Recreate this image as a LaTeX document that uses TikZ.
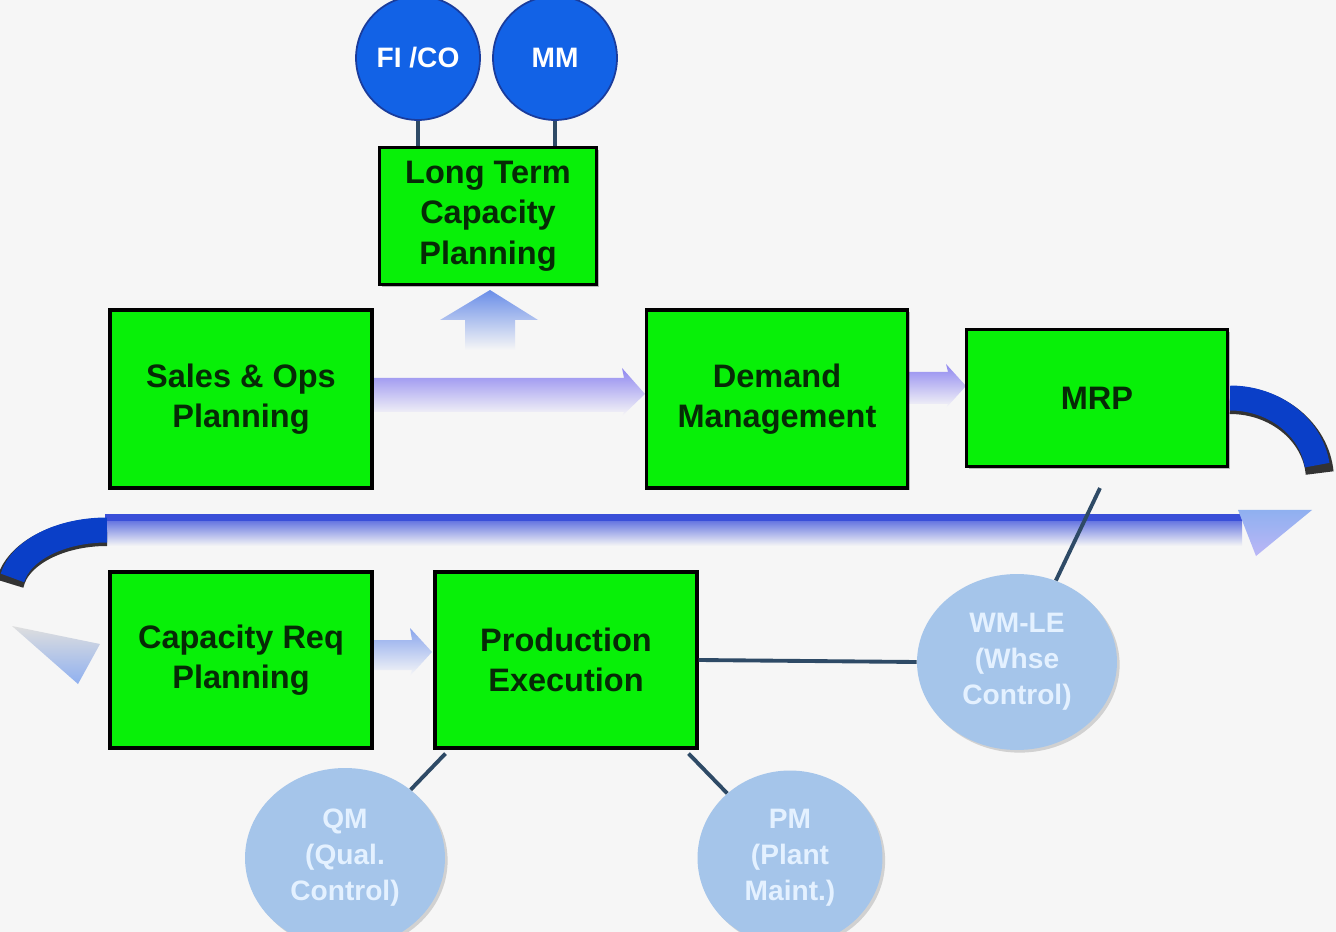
\documentclass[tikz,border=0pt]{standalone}
\usepackage{fontspec}
\setmainfont{Liberation Sans}
\usetikzlibrary{shapes.geometric,calc,shadows}
\definecolor{bgc}{HTML}{F6F6F6}
\definecolor{boxgreen}{HTML}{08F008}
\definecolor{boxtext}{HTML}{062A06}
\definecolor{darkcirc}{HTML}{1262E6}
\definecolor{darkcircb}{HTML}{1A3C9C}
\definecolor{lightcirc}{HTML}{A5C5EA}
\definecolor{lightctext}{HTML}{E4F1FF}
\definecolor{conn}{HTML}{2E4A66}
\definecolor{fatblue}{HTML}{8E86F0}
\definecolor{upblue}{HTML}{6A8EE8}
\definecolor{curveblue}{HTML}{0A3FC8}
\definecolor{headblue}{HTML}{8FB0F0}
\definecolor{lineblue}{HTML}{3A4FD8}
\tikzset{
  greenbox/.style={draw=black, line width=1.8pt, fill=boxgreen, align=center,
    text=boxtext, font=\bfseries\fontsize{18.5}{23}\selectfont,
    drop shadow={shadow xshift=1.2pt, shadow yshift=-1.2pt, fill=black, opacity=0.25}},
  darkdisc/.style={circle, draw=darkcircb, line width=1pt, fill=darkcirc,
    minimum size=2.48cm, inner sep=0pt, text=white, font=\bfseries\fontsize{16}{18}\selectfont},
  lightdisc/.style={ellipse, fill=lightcirc, inner sep=0pt, align=center,
    text=lightctext, font=\bfseries\fontsize{16}{20.5}\selectfont,
    drop shadow={shadow xshift=1.5pt, shadow yshift=-1.5pt, fill=black, opacity=0.15}},
  connline/.style={draw=conn, line width=2.2pt},
  curvearc/.style={draw=curveblue, line width=0.5cm},
  curveshadow/.style={draw=black!80, line width=0.56cm},
}
\begin{document}
\begin{tikzpicture}[x=0.02cm,y=-0.02cm]
\fill[bgc] (0,0) rectangle (1336,932);
\useasboundingbox (0,0) rectangle (1336,932);

% fat arrows (behind boxes)
\shade[top color=upblue, bottom color=bgc]
  (465,350) -- (465,320) -- (440,320) -- (490,290) -- (538,320) -- (515,320) -- (515,350) -- cycle;
\shade[top color=fatblue, bottom color=bgc!90!white]
  (372,378) -- (624,378) -- (622,368) -- (645,394) -- (622,416) -- (624,412) -- (372,412) -- cycle;
\shade[top color=fatblue, bottom color=bgc!90!white]
  (905,372) -- (948,372) -- (946,364) -- (966,386) -- (946,408) -- (948,404) -- (905,404) -- cycle;
\shade[top color=upblue!80, bottom color=bgc!90!white]
  (372,640) -- (412,640) -- (410,628) -- (432,652) -- (410,676) -- (412,670) -- (372,670) -- cycle;

% long return line
\shade[top color=lineblue!80, bottom color=bgc] (105,520) rectangle (1242,546);
\fill[lineblue] (105,514) rectangle (1242,521);

% right curved arrow
\draw[curveshadow] (1230,400) arc[start angle=-90, end angle=-5, x radius=90, y radius=80];
\draw[curvearc] (1230,398) arc[start angle=-90, end angle=-8, x radius=88, y radius=78];
\shade[top color=headblue, bottom color=fatblue!60]
  (1238,510) -- (1312,510) -- (1256,556) -- cycle;

% left curved arrow
\draw[curveshadow] (107,532) arc[start angle=-90, end angle=-172, x radius=98, y radius=60];
\draw[curvearc] (107,530) arc[start angle=-90, end angle=-170, x radius=96, y radius=58];
\shade[top color=bgc!80!gray, bottom color=headblue]
  (12,626) -- (100,644) -- (78,684) -- cycle;

% boxes
\node[greenbox, minimum width=4.34cm, minimum height=2.74cm] (ltcp) at (488,216) {Long Term\\Capacity\\Planning};
\node[greenbox, minimum width=5.24cm, minimum height=3.56cm] (sop) at (241,399) {Sales \& Ops\\Planning};
\node[greenbox, minimum width=5.22cm, minimum height=3.56cm] (dm) at (777,399) {Demand\\Management};
\node[greenbox, minimum width=5.22cm, minimum height=2.74cm] (mrp) at (1097,398) {MRP};
\node[greenbox, minimum width=5.24cm, minimum height=3.52cm] (crp) at (241,660) {Capacity Req\\Planning};
\node[greenbox, minimum width=5.24cm, minimum height=3.52cm] (pe) at (566,660) {Production\\Execution};

% top discs
\node[darkdisc] (fico) at (418,58) {FI /CO};
\node[darkdisc] (mm) at (555,58) {MM};
\draw[connline] (fico.south) -- (fico.south |- ltcp.north);
\draw[connline] (mm.south) -- (mm.south |- ltcp.north);

% light discs
\node[lightdisc, minimum width=4.0cm, minimum height=3.52cm] (wm) at (1017,662) {WM-LE\\(Whse\\Control)};
\node[lightdisc, minimum width=4.0cm, minimum height=3.6cm] (qm) at (345,858) {QM\\(Qual.\\Control)};
\node[lightdisc, minimum width=3.7cm, minimum height=3.5cm] (pm) at (790,858) {PM\\(Plant\\Maint.)};

% connectors
\draw[connline] ($(mrp.south)+(3,20)$) -- (wm);
\draw[connline] (pe.east) -- (wm.west);
\draw[connline] ($(pe.south west)+(12,4)$) -- (qm);
\draw[connline] ($(pe.south east)+(-10,4)$) -- (pm);
\end{tikzpicture}
\end{document}
